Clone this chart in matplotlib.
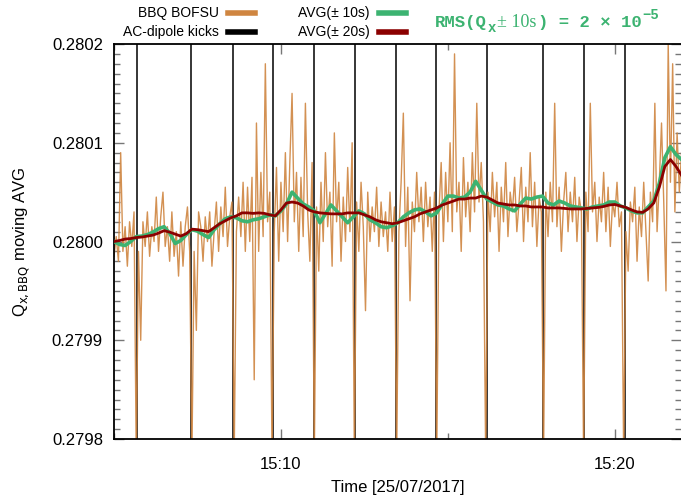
import numpy as np
import matplotlib
matplotlib.use('Agg')
import matplotlib.pyplot as plt
import matplotlib.dates as mdates
from matplotlib.lines import Line2D

plt.rcParams['font.family'] = ['Liberation Sans', 'DejaVu Sans']

# tune offsets in units of 1e-5 around 0.2800
q_base = 0.2800
t0 = np.datetime64('2017-07-25T15:05:00')

# BBQ BOFSU raw signal, one sample every 4 s
bbq_step = 4
bbq = [
    -1.5, 0.5, -2.0, 9.0, -1.0, 1.5, -2.5, 2.0, -0.5, 3.0,
    -22, -1.0, -10, 2.0, -0.5, 3.0, -1.5, 1.5, 0.0, 4.5,
    -1.0, 2.5, 5.0, -0.5, 1.5, -2.0, 3.0, -1.5, 1.0, -3.5,
    2.0, -2.5, 1.5, 3.5, -1.0, -22, -1.0, -9.0, 3.0, 1.5,
    -2.0, 2.5, 0.0, 3.0, -2.5, 1.0, 4.0, -1.0, 3.5, 0.5,
    5.5, -0.5, 2.5, 4.0, -22, 1.0, 4.5, 0.5, 6.0, -1.0,
    5.5, 0.0, 6.5, -14, 12, -1.0, 7.0, 0.5, 18, 2.0,
    5.0, -22, 1.0, 7.5, -2.0, 6.0, 1.0, 9.0, 0.0, 8.0,
    15, 2.0, 7.0, -1.0, 6.5, 0.5, 14, 3.0, -2.0, 8.0,
    -22, 3.5, -3.0, 6.0, 0.0, 9.0, 1.5, 5.0, -2.5, 11,
    2.0, 6.0, -2.0, 4.5, 0.0, 7.5, 1.0, 10, -22, 4.0,
    -1.0, 6.0, 1.5, -7.0, 5.0, 0.0, 3.5, 1.0, 5.5, -0.5,
    4.0, 0.5, 3.0, -1.0, 5.0, 0.0, 3.5, -22, 1.0, 6.0,
    13, -0.5, 5.5, -6.0, 4.0, 1.0, 7.0, 2.0, 5.5, 0.0,
    6.0, 1.5, 4.5, -1.0, 5.0, -22, 3.0, 8.0, 0.0, 7.0,
    2.0, 10, 1.0, 19, 3.0, 6.0, -1.0, 8.5, 2.5, 6.0,
    1.0, 9.0, 3.0, 14, 4.0, 8.0, 2.0, -22, 5.0, 1.0,
    7.0, 2.5, 6.0, -1.0, 5.5, 2.0, 8.0, 0.5, 5.0, 3.0,
    6.5, 1.0, 4.0, 7.5, 0.0, 5.5, 2.0, 9.0, 1.5, 6.0,
    -0.5, 4.5, 3.0, -22, 5.0, 0.5, 6.0, 2.0, 14, 1.5,
    5.5, -1.0, 4.0, 7.0, 1.0, 5.0, 2.0, 6.5, 0.0, 4.5,
    3.0, -22, 5.0, 1.0, 14, 3.0, 6.0, 0.0, 4.5, 2.0,
    7.0, 1.0, 5.5, -0.5, 4.0, 2.5, 6.0, 1.5, 3.0, -22,
    1.0, -3.0, 4.0, 2.0, 5.5, -2.0, 3.5, 0.5, 6.0, 1.0,
    -4.0, 5.0, 2.0, 14, 1.0, 6.0, 12, 4.0, -5.0, 20,
    6.0, 18, 3.0, 11, 5.0, 9.0,
]

# moving averages, one sample every 10 s
avg_step = 10
avg10 = [
    0.0, -0.3, -0.4, 0.0, 0.5, 0.55, 0.7, 0.95, 1.3, 1.5,
    0.85, -0.2, 0.1, 0.7, 1.2, 1.05, 0.7, 0.4, 1.2, 1.8,
    2.3, 2.5, 2.4, 2.1, 2.0, 2.2, 2.3, 2.5, 2.7, 2.6,
    3.1, 3.8, 5.0, 4.4, 3.8, 3.5, 3.1, 1.9, 2.8, 3.7,
    3.1, 2.5, 1.9, 2.5, 3.1, 2.8, 2.2, 1.9, 1.5, 1.4,
    1.6, 1.9, 2.5, 2.9, 3.2, 3.3, 3.0, 2.6, 2.9, 3.8,
    4.6, 4.6, 4.4, 4.5, 5.0, 6.1, 5.2, 4.3, 4.0, 3.7,
    3.6, 3.3, 3.1, 3.8, 4.4, 4.3, 4.5, 4.6, 3.9, 3.7,
    4.1, 3.9, 3.6, 3.5, 3.4, 3.3, 3.5, 3.6, 3.7, 4.0,
    4.0, 3.6, 3.4, 3.1, 2.9, 2.9, 3.5, 4.1, 5.9, 8.5,
    9.6, 8.8, 8.3,
]
avg20 = [
    0.0, 0.1, 0.25, 0.3, 0.4, 0.45, 0.55, 0.65, 0.85, 1.1,
    0.95, 0.75, 0.55, 0.8, 1.25, 1.2, 1.1, 1.0, 1.4, 1.8,
    2.1, 2.4, 2.6, 2.9, 2.9, 2.85, 2.9, 2.85, 2.7, 2.6,
    3.2, 3.9, 4.0, 3.9, 3.6, 3.2, 3.0, 2.9, 2.85, 2.8,
    2.8, 2.8, 2.9, 2.9, 2.9, 2.7, 2.5, 2.2, 2.0, 1.9,
    1.8, 1.9, 2.1, 2.3, 2.5, 2.8, 3.0, 3.2, 3.4, 3.7,
    3.9, 4.1, 4.3, 4.3, 4.4, 4.4, 4.6, 4.5, 4.2, 3.9,
    3.8, 3.7, 3.7, 3.6, 3.6, 3.5, 3.5, 3.5, 3.4, 3.4,
    3.4, 3.35, 3.3, 3.3, 3.3, 3.35, 3.4, 3.45, 3.55, 3.7,
    3.75, 3.6, 3.45, 3.2, 3.0, 2.95, 3.3, 3.9, 5.5, 7.6,
    8.3, 7.6, 6.7,
]

kicks = ['15:05:41', '15:07:18', '15:08:34', '15:09:46', '15:10:59', '15:12:13',
         '15:13:27', '15:14:38', '15:16:10', '15:17:51', '15:19:04', '15:20:18']

t_bbq = t0 + np.arange(len(bbq)) * np.timedelta64(bbq_step, 's')
t_avg = t0 + np.arange(len(avg10)) * np.timedelta64(avg_step, 's')
q_bbq = q_base + np.array(bbq) * 1e-5
q_avg10 = q_base + np.array(avg10) * 1e-5
q_avg20 = q_base + np.array(avg20) * 1e-5
t_kicks = [np.datetime64('2017-07-25T' + k) for k in kicks]

c_bbq = '#cf8540'
c_avg10 = '#3cb371'
c_avg20 = '#8b0000'

fig = plt.figure(figsize=(6.81, 4.99), dpi=100)
ax = fig.add_axes([0.1674, 0.1202, 0.8326, 0.7916])

for tk in t_kicks:
    ax.axvline(tk, color='black', lw=1.1, zorder=1)
ax.plot(t_bbq, q_bbq, color=c_bbq, lw=1.0, alpha=0.9, zorder=2)
ax.plot(t_avg, q_avg10, color=c_avg10, lw=2.6, zorder=3)
ax.plot(t_avg, q_avg20, color=c_avg20, lw=2.0, zorder=4)

ax.set_xlim(t0, t0 + np.timedelta64(1019, 's'))
ax.set_ylim(0.2798, 0.2802)
ax.set_yticks([0.2798, 0.2799, 0.2800, 0.2801, 0.2802])
ax.set_yticklabels(['0.2798', '0.2799', '0.2800', '0.2801', '0.2802'])
ax.yaxis.set_minor_locator(plt.MultipleLocator(1e-5))
ax.xaxis.set_major_locator(mdates.MinuteLocator(byminute=[10, 20]))
ax.xaxis.set_minor_locator(mdates.MinuteLocator(byminute=[5, 15]))
ax.xaxis.set_major_formatter(mdates.DateFormatter('%H:%M'))

ax.tick_params(which='both', direction='in', top=True, right=True,
               color='#777777', labelsize=12)
ax.tick_params(which='major', length=7, width=1)
ax.tick_params(which='minor', length=4, width=1)
ax.tick_params(axis='y', pad=8)
ax.tick_params(axis='x', pad=13)
for s in ['left', 'bottom', 'top']:
    ax.spines[s].set_linewidth(1.3)
ax.spines['right'].set_visible(False)

ax.set_xlabel('Time [25/07/2017]', fontsize=12, labelpad=6)
ax.set_ylabel(r'Q$_{\mathrm{x,BBQ}}$ moving AVG', fontsize=12, labelpad=14)

# legend in gnuplot style: text then sample, two columns above the frame
entries = [('BBQ BOFSU', c_bbq, 0.322, 0.974),
           ('AC-dipole kicks', 'black', 0.322, 0.936),
           ('AVG(± 10s)', c_avg10, 0.543, 0.974),
           ('AVG(± 20s)', c_avg20, 0.543, 0.936)]
for label, col, xr, yc in entries:
    fig.text(xr, yc, label, ha='right', va='center', fontsize=10)
    fig.add_artist(Line2D([xr + 0.013, xr + 0.053], [yc, yc], color=col, lw=4,
                          transform=fig.transFigure))

# RMS annotation, built from pieces in mixed fonts like the gnuplot label
mono = dict(family='Liberation Mono', fontweight='bold', fontsize=12.4)
serif = dict(family='Liberation Serif', fontsize=13)
pieces = [('RMS(Q', mono, 0), ('x', dict(mono, fontsize=10), -5),
          ('± 10s', serif, 0), (') = 2 × 10', mono, 0),
          ('−5', dict(mono, fontsize=10), 8)]
renderer = fig.canvas.get_renderer()
x_px, y_px = 435, 499 - 27
for txt, style, dy in pieces:
    t = fig.text(x_px / 681, (y_px + dy) / 499, txt, color=c_avg10,
                 ha='left', va='baseline', **style)
    x_px += t.get_window_extent(renderer).width + 1

fig.savefig('out.png', dpi=100)
